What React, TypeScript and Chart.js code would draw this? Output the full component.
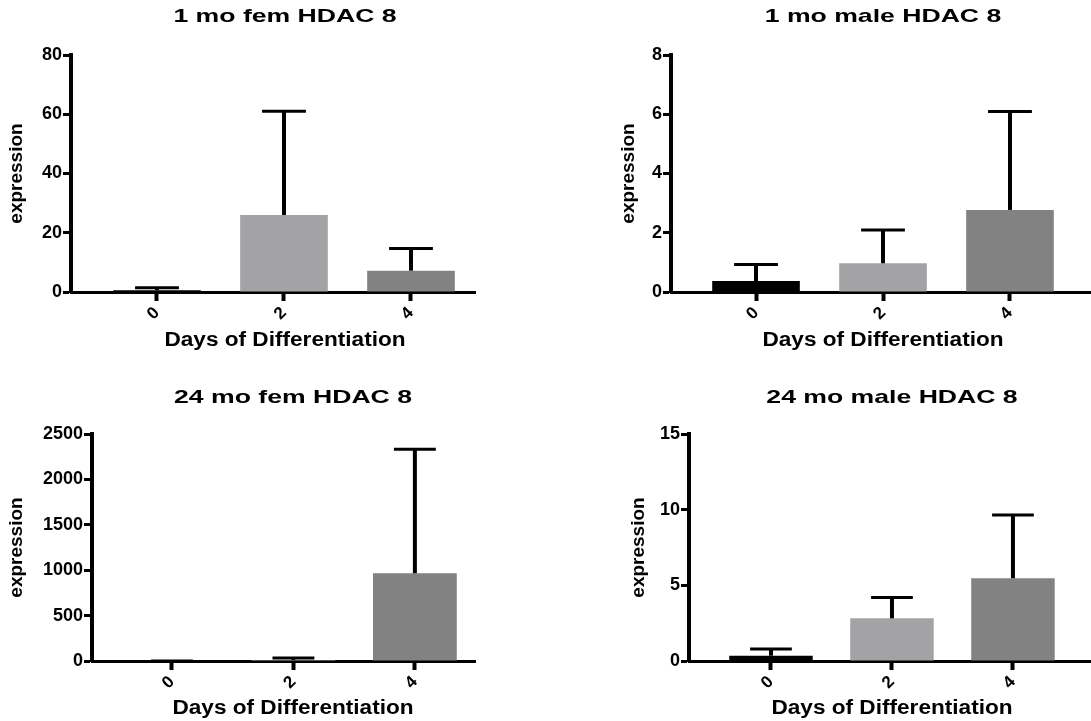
import React, { useEffect, useRef } from "react";
import { Chart, registerables } from "chart.js";

Chart.register(...registerables);

const FONT = '"Liberation Sans", Arial, Helvetica, sans-serif';

// Categories (days of differentiation) and tick labels
const dayValues = [0, 2, 4];
const dayLabels = ["0", "2", "4"];
const barColors = ["#000000", "#a3a3a6", "#828282"];

// 1 mo fem HDAC 8
const fem1Mean = [0.6, 26.0, 7.2];
const fem1Err = [0.8, 35.0, 7.5];
const fem1YTicks = [0, 20, 40, 60, 80];

// 1 mo male HDAC 8
const male1Mean = [0.37, 0.97, 2.77];
const male1Err = [0.56, 1.12, 3.32];
const male1YTicks = [0, 2, 4, 6, 8];

// 24 mo fem HDAC 8
const fem24Mean = [0.5, 12, 966];
const fem24Err = [0.5, 22, 1365];
const fem24YTicks = [0, 500, 1000, 1500, 2000, 2500];

// 24 mo male HDAC 8
const male24Mean = [0.35, 2.82, 5.47];
const male24Err = [0.44, 1.37, 4.18];
const male24YTicks = [0, 5, 10, 15];

const titles = ["1 mo fem HDAC 8", "1 mo male HDAC 8", "24 mo fem HDAC 8", "24 mo male HDAC 8"];
const xTitle = "Days of Differentiation";
const yTitle = "expression";

type Panel = {
  title: string;
  mean: number[];
  err: number[];
  yTicks: number[];
  left: number;
  top: number;
  width: number;
  height: number;
  area: { left: number; right: number; top: number; bottom: number };
  xMin: number;
  xMax: number;
  titleX: number;
  titleY: number;
  xTitleY: number;
  yTitleX: number;
};

const panels: Panel[] = [
  {
    title: titles[0], mean: fem1Mean, err: fem1Err, yTicks: fem1YTicks,
    left: 0, top: 0, width: 545, height: 360,
    area: { left: 71, right: 475, top: 55, bottom: 292 },
    xMin: -1.354, xMax: 5.008, titleX: 285, titleY: 17, xTitleY: 340, yTitleX: 17,
  },
  {
    title: titles[1], mean: male1Mean, err: male1Err, yTicks: male1YTicks,
    left: 545, top: 0, width: 546, height: 360,
    area: { left: 126, right: 546, top: 55, bottom: 292 },
    xMin: -1.339, xMax: 5.276, titleX: 338, titleY: 17, xTitleY: 340, yTitleX: 84,
  },
  {
    title: titles[2], mean: fem24Mean, err: fem24Err, yTicks: fem24YTicks,
    left: 0, top: 360, width: 545, height: 361,
    area: { left: 92, right: 475, top: 74, bottom: 301 },
    xMin: -1.317, xMax: 4.99, titleX: 293, titleY: 38, xTitleY: 348, yTitleX: 17,
  },
  {
    title: titles[3], mean: male24Mean, err: male24Err, yTicks: male24YTicks,
    left: 545, top: 360, width: 546, height: 361,
    area: { left: 144, right: 546, top: 74, bottom: 301 },
    xMin: -1.355, xMax: 5.29, titleX: 347, titleY: 38, xTitleY: 348, yTitleX: 94,
  },
];

const errorBarPlugin = {
  id: "errorBars",
  afterDatasetsDraw(chart: any, _args: any, opts: any) {
    const errs: number[] = opts.errors || [];
    const meta = chart.getDatasetMeta(0);
    const yScale = chart.scales.y;
    const ctx = chart.ctx;
    ctx.save();
    ctx.strokeStyle = "#000";
    meta.data.forEach((el: any, i: number) => {
      const raw = chart.data.datasets[0].data[i];
      const v = typeof raw === "number" ? raw : raw.y;
      const topPx = yScale.getPixelForValue(v + errs[i]);
      const { x, y, width } = el.getProps(["x", "y", "width"], true);
      const half = width * 0.25;
      ctx.lineWidth = 4;
      ctx.beginPath();
      ctx.moveTo(x, y);
      ctx.lineTo(x, topPx);
      ctx.stroke();
      ctx.lineWidth = 3;
      ctx.beginPath();
      ctx.moveTo(x - half, topPx);
      ctx.lineTo(x + half, topPx);
      ctx.stroke();
    });
    ctx.restore();
  },
};

function drawStretched(ctx: CanvasRenderingContext2D, text: string, x: number, y: number, sx: number) {
  ctx.save();
  ctx.translate(x, y);
  ctx.scale(sx, 1);
  ctx.fillText(text, 0, 0);
  ctx.restore();
}

const panelTextPlugin = {
  id: "panelText",
  afterDraw(chart: any, _args: any, opts: any) {
    const ctx = chart.ctx;
    ctx.save();
    ctx.fillStyle = "#000";
    ctx.textAlign = "center";
    ctx.textBaseline = "middle";
    ctx.font = `bold 19px ${FONT}`;
    drawStretched(ctx, opts.title, opts.x, opts.titleY, 1.4);
    ctx.font = `bold 20px ${FONT}`;
    drawStretched(ctx, opts.xTitle, opts.x, opts.xTitleY, 1.13);
    ctx.restore();
  },
};

function ChartPanel({ p }: { p: Panel }) {
  const ref = useRef<HTMLCanvasElement>(null);
  useEffect(() => {
    const yLineHalf = (19 * 1.2) / 2;
    const chart = new Chart(ref.current as HTMLCanvasElement, {
      type: "bar",
      data: {
        datasets: [
          {
            data: p.mean.map((m, i) => ({ x: dayValues[i], y: m })),
            backgroundColor: barColors,
            borderWidth: 0,
            barPercentage: 0.69,
            categoryPercentage: 1,
          },
        ],
      },
      options: {
        responsive: false,
        animation: false,
        events: [],
        layout: {
          padding: { top: p.area.top, right: p.width - p.area.right, left: 0, bottom: 0 },
        },
        plugins: {
          legend: { display: false },
          tooltip: { enabled: false },
          title: { display: false },
          errorBars: { errors: p.err },
          panelText: { title: p.title, xTitle, x: p.titleX, titleY: p.titleY, xTitleY: p.xTitleY },
        } as any,
        scales: {
          x: {
            type: "linear",
            min: p.xMin,
            max: p.xMax,
            offset: false,
            z: 1,
            afterBuildTicks: (ax: any) => {
              ax.ticks = dayValues.map((v) => ({ value: v }));
            },
            afterFit: (ax: any) => {
              ax.height = p.height - p.area.bottom;
            },
            grid: {
              display: true,
              offset: false,
              drawOnChartArea: false,
              drawTicks: true,
              tickLength: 9,
              tickWidth: 4,
              tickColor: "#000",
            },
            border: { display: true, color: "#000", width: 3 },
            ticks: {
              color: "#000",
              font: { family: FONT, size: 17, weight: "bold" },
              minRotation: 45,
              maxRotation: 45,
              padding: 2,
              autoSkip: false,
              callback: (_v: any, i: number) => dayLabels[i],
            },
          },
          y: {
            type: "linear",
            min: p.yTicks[0],
            max: p.yTicks[p.yTicks.length - 1],
            z: 1,
            afterBuildTicks: (ax: any) => {
              ax.ticks = p.yTicks.map((v) => ({ value: v }));
            },
            afterFit: (ax: any) => {
              ax.width = p.area.left;
            },
            grid: {
              display: true,
              drawOnChartArea: false,
              drawTicks: true,
              tickLength: 8,
              tickWidth: 3,
              tickColor: "#000",
            },
            border: { display: true, color: "#000", width: 4 },
            ticks: {
              color: "#000",
              font: { family: FONT, size: 18, weight: "bold" },
              padding: 1,
              callback: (v: any) => String(v),
            },
            title: {
              display: true,
              text: yTitle,
              color: "#000",
              font: { family: FONT, size: 19, weight: "bold" },
              padding: { top: p.yTitleX - yLineHalf, bottom: 0 },
            },
          },
        },
      } as any,
      plugins: [errorBarPlugin, panelTextPlugin],
    });
    return () => chart.destroy();
  }, [p]);
  return (
    <canvas
      ref={ref}
      width={p.width}
      height={p.height}
      style={{ position: "absolute", left: p.left, top: p.top, width: p.width, height: p.height }}
    />
  );
}

export default function App() {
  return (
    <div
      style={{
        position: "absolute",
        left: 0,
        top: 0,
        width: 1091,
        height: 721,
        background: "#fff",
        overflow: "hidden",
      }}
    >
      {panels.map((p, i) => (
        <ChartPanel key={i} p={p} />
      ))}
    </div>
  );
}
